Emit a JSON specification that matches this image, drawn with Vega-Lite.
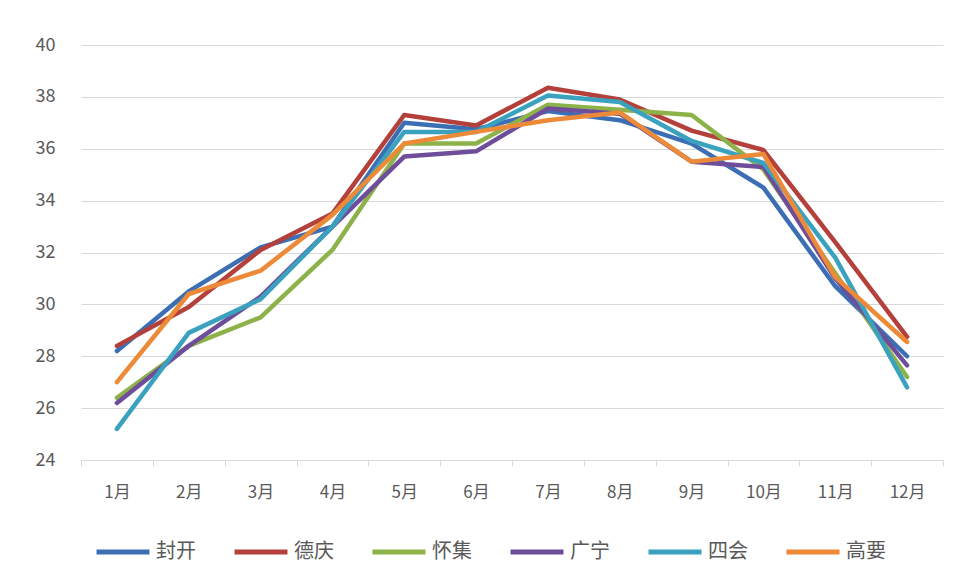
{
  "$schema": "https://vega.github.io/schema/vega-lite/v6.json",
  "width": 862,
  "height": 415,
  "autosize": "none",
  "padding": {"left": 81, "top": 45, "right": 17, "bottom": 128},
  "background": "white",
  "config": {
    "view": {"stroke": null},
    "font": "Noto Sans CJK SC"
  },
  "data": {
    "values": [
      {"month": "1月", "site": "封开", "value": 28.2},
      {"month": "2月", "site": "封开", "value": 30.5},
      {"month": "3月", "site": "封开", "value": 32.2},
      {"month": "4月", "site": "封开", "value": 33.0},
      {"month": "5月", "site": "封开", "value": 37.0},
      {"month": "6月", "site": "封开", "value": 36.75},
      {"month": "7月", "site": "封开", "value": 37.45},
      {"month": "8月", "site": "封开", "value": 37.1},
      {"month": "9月", "site": "封开", "value": 36.2},
      {"month": "10月", "site": "封开", "value": 34.5},
      {"month": "11月", "site": "封开", "value": 30.7},
      {"month": "12月", "site": "封开", "value": 28.0},
      {"month": "1月", "site": "德庆", "value": 28.4},
      {"month": "2月", "site": "德庆", "value": 29.9},
      {"month": "3月", "site": "德庆", "value": 32.1},
      {"month": "4月", "site": "德庆", "value": 33.5},
      {"month": "5月", "site": "德庆", "value": 37.3},
      {"month": "6月", "site": "德庆", "value": 36.9},
      {"month": "7月", "site": "德庆", "value": 38.35},
      {"month": "8月", "site": "德庆", "value": 37.9},
      {"month": "9月", "site": "德庆", "value": 36.7},
      {"month": "10月", "site": "德庆", "value": 35.95},
      {"month": "11月", "site": "德庆", "value": 32.4},
      {"month": "12月", "site": "德庆", "value": 28.75},
      {"month": "1月", "site": "怀集", "value": 26.4},
      {"month": "2月", "site": "怀集", "value": 28.4},
      {"month": "3月", "site": "怀集", "value": 29.5},
      {"month": "4月", "site": "怀集", "value": 32.1},
      {"month": "5月", "site": "怀集", "value": 36.2},
      {"month": "6月", "site": "怀集", "value": 36.2},
      {"month": "7月", "site": "怀集", "value": 37.7},
      {"month": "8月", "site": "怀集", "value": 37.5},
      {"month": "9月", "site": "怀集", "value": 37.3},
      {"month": "10月", "site": "怀集", "value": 35.2},
      {"month": "11月", "site": "怀集", "value": 31.2},
      {"month": "12月", "site": "怀集", "value": 27.2},
      {"month": "1月", "site": "广宁", "value": 26.2},
      {"month": "2月", "site": "广宁", "value": 28.4},
      {"month": "3月", "site": "广宁", "value": 30.3},
      {"month": "4月", "site": "广宁", "value": 33.0},
      {"month": "5月", "site": "广宁", "value": 35.7},
      {"month": "6月", "site": "广宁", "value": 35.9},
      {"month": "7月", "site": "广宁", "value": 37.55},
      {"month": "8月", "site": "广宁", "value": 37.35},
      {"month": "9月", "site": "广宁", "value": 35.5},
      {"month": "10月", "site": "广宁", "value": 35.3},
      {"month": "11月", "site": "广宁", "value": 31.0},
      {"month": "12月", "site": "广宁", "value": 27.65},
      {"month": "1月", "site": "四会", "value": 25.2},
      {"month": "2月", "site": "四会", "value": 28.9},
      {"month": "3月", "site": "四会", "value": 30.2},
      {"month": "4月", "site": "四会", "value": 33.0},
      {"month": "5月", "site": "四会", "value": 36.65},
      {"month": "6月", "site": "四会", "value": 36.65},
      {"month": "7月", "site": "四会", "value": 38.05},
      {"month": "8月", "site": "四会", "value": 37.8},
      {"month": "9月", "site": "四会", "value": 36.3},
      {"month": "10月", "site": "四会", "value": 35.45},
      {"month": "11月", "site": "四会", "value": 31.8},
      {"month": "12月", "site": "四会", "value": 26.8},
      {"month": "1月", "site": "高要", "value": 27.0},
      {"month": "2月", "site": "高要", "value": 30.4},
      {"month": "3月", "site": "高要", "value": 31.3},
      {"month": "4月", "site": "高要", "value": 33.45},
      {"month": "5月", "site": "高要", "value": 36.2},
      {"month": "6月", "site": "高要", "value": 36.65},
      {"month": "7月", "site": "高要", "value": 37.1},
      {"month": "8月", "site": "高要", "value": 37.4},
      {"month": "9月", "site": "高要", "value": 35.5},
      {"month": "10月", "site": "高要", "value": 35.8},
      {"month": "11月", "site": "高要", "value": 31.05},
      {"month": "12月", "site": "高要", "value": 28.55}
    ]
  },
  "mark": {"type": "line", "strokeWidth": 4.5, "strokeJoin": "round", "strokeCap": "round"},
  "encoding": {
    "x": {
      "field": "month",
      "type": "ordinal",
      "sort": ["1月","2月","3月","4月","5月","6月","7月","8月","9月","10月","11月","12月"],
      "scale": {"type": "band", "paddingInner": 0, "paddingOuter": 0},
      "axis": {
        "title": null,
        "labelAngle": 0,
        "labelFontSize": 17,
        "labelColor": "#595959",
        "labelPadding": 18,
        "domainColor": "#d9d9d9",
        "domainWidth": 1,
        "tickColor": "#d9d9d9",
        "tickSize": 6,
        "tickBand": "extent",
        "grid": false
      }
    },
    "y": {
      "field": "value",
      "type": "quantitative",
      "scale": {"domain": [24, 40], "nice": false, "zero": false},
      "axis": {
        "title": null,
        "values": [24, 26, 28, 30, 32, 34, 36, 38, 40],
        "labelFontSize": 18,
        "labelColor": "#595959",
        "labelPadding": 26,
        "domain": false,
        "ticks": false,
        "gridColor": "#d9d9d9",
        "gridWidth": 1
      }
    },
    "color": {
      "field": "site",
      "type": "nominal",
      "sort": ["封开", "德庆", "怀集", "广宁", "四会", "高要"],
      "scale": {
        "domain": ["封开", "德庆", "怀集", "广宁", "四会", "高要"],
        "range": ["#3C6EB4", "#B4403C", "#8DB24A", "#6E4E9A", "#3AA2BE", "#EC8A38"]
      },
      "legend": {
        "title": null,
        "orient": "none",
        "legendX": 13,
        "legendY": 478,
        "direction": "horizontal",
        "symbolType": "stroke",
        "symbolSize": 2809,
        "symbolStrokeWidth": 5,
        "labelFontSize": 20,
        "labelColor": "#595959",
        "labelOffset": 4,
        "columnPadding": 28
      }
    }
  }
}
